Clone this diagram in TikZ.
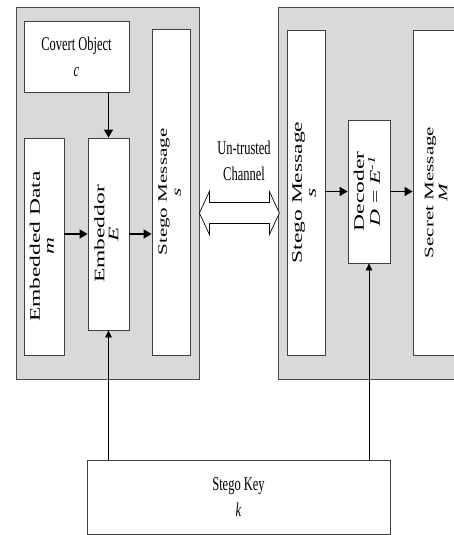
\documentclass[tikz,border=0pt]{standalone}
\usepackage{fontspec}
\setmainfont{Liberation Serif}
\newfontfamily\hfont[FakeStretch=0.64]{Liberation Serif}
\newfontfamily\vfont[FakeStretch=1.62]{Liberation Serif}
\usetikzlibrary{arrows.meta,shadows}
\newcommand{\sidetext}[3][14.5]{\rotatebox{90}{\vfont\fontsize{#1}{14}\selectfont\begin{tabular}{@{}c@{}}#2\\#3\end{tabular}}}
\tikzset{panel/.style={draw=black!70, line width=0.8pt, fill=black!15, inner sep=0pt, drop shadow={shadow xshift=1pt, shadow yshift=-1pt, fill=black!60, opacity=1}},
  blockbox/.style={draw=black!75, line width=0.8pt, fill=white, inner sep=0pt, drop shadow={shadow xshift=0.8pt, shadow yshift=-0.8pt, fill=black!60, opacity=1}},
  flowtext/.style={font=\hfont\fontsize{19.5}{26}\selectfont, align=center},
  flowarrow/.style={-{Triangle[length=8pt,width=9pt]}, line width=1.3pt},
  keyarrow/.style={-{Triangle[length=7pt,width=6.5pt]}, line width=0.8pt}}

\begin{document}
\begin{tikzpicture}[x=1pt, y=-1pt]
\useasboundingbox (0,0) rectangle (454,535);
\clip (0,0) rectangle (454,535);
\node[panel, minimum width=183pt, minimum height=372pt] (sender) at (107.5,193) {};
\node[panel, minimum width=192pt, minimum height=372pt] (receiver) at (374,193) {};
\node[blockbox, flowtext, minimum width=105pt, minimum height=71pt] (covert) at (76.5,56.5) {Covert Object\\\textit{c}};
\node[blockbox, minimum width=40pt, minimum height=217pt] (data) at (44,246.5) {\sidetext{Embedded Data}{\textit{m}}};
\node[blockbox, minimum width=41pt, minimum height=192pt] (embed) at (108.5,234) {\sidetext{Embeddor}{\textit{E}}};
\node[blockbox, minimum width=38pt, minimum height=326pt] (stegoL) at (171,192) {\sidetext[13]{Stego Message}{\textit{s}}};
\node[blockbox, minimum width=38pt, minimum height=325pt] (stegoR) at (306,192.5) {\sidetext{Stego Message}{\textit{s}}};
\node[blockbox, minimum width=42pt, minimum height=143pt] (decoder) at (369,191.5) {\sidetext{Decoder}{\textit{D} = \textit{E}\textsuperscript{\textit{-1}}}};
\node[blockbox, minimum width=49pt, minimum height=325pt] (secret) at (437.5,192.5) {\sidetext[13]{Secret Message}{\textit{M}}};
\node[blockbox, flowtext, minimum width=303pt, minimum height=74pt] (key) at (238.5,497) {Stego Key\\\textit{k}};
\node[flowtext] (chantext) at (244,161) {Un-trusted\\Channel};
% channel between the two sides
\coordinate (chl) at (sender.east |- 0,213);
\draw[line width=0.7pt, fill=white, shift={(chl)}] (0,0) -- (10,-21.5) -- (10,-10.5) -- (70,-10.5) -- (70,-21.5) -- (80,0)
  -- (70,21.5) -- (70,10.5) -- (10,10.5) -- (10,21.5) -- cycle;
\draw[flowarrow] (embed.north |- covert.south) -- (embed.north);
\draw[flowarrow] (data.east |- embed) -- (embed.west);
\draw[flowarrow] (embed.east) -- (embed.east -| stegoL.west);
\draw[flowarrow] (stegoR.east |- decoder) -- (decoder.west);
\draw[flowarrow] (decoder.east) -- (decoder.east -| secret.west);
\draw[keyarrow] (key.north -| embed) -- (embed.south);
\draw[keyarrow] (key.north -| decoder) -- (decoder.south);
\end{tikzpicture}
\end{document}
